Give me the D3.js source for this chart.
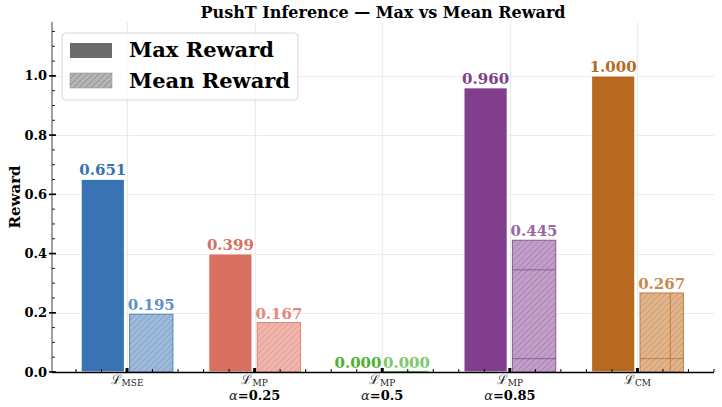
<!DOCTYPE html>
<html>
<head>
<meta charset="utf-8">
<script src="https://cdn.jsdelivr.net/npm/d3@7"></script>
<style>
  body { margin: 0; background: #fff; }
  svg { display: block; font-family: "DejaVu Serif", serif; }
</style>
</head>
<body>
<div id="chart"></div>
<script>
"use strict";

const width = 722;
const height = 407;

// data
const categories = ["MSE", "MP", "MP", "MP", "CM"];
const alphas = [null, "0.25", "0.5", "0.85", null];
const maxReward = [0.651, 0.399, 0.0, 0.96, 1.0];
const meanReward = [0.195, 0.167, 0.0, 0.445, 0.267];
const yTicks = [0.0, 0.2, 0.4, 0.6, 0.8, 1.0];

// colours per category: solid, light fill, label tint
const barColors = ["#3973b3", "#d9705f", "#4db22e", "#803e8d", "#b7691f"];
const meanFills = ["#9fbad9", "#edb5ab", "#a6d896", "#c09fc7", "#dfb48c"];
const meanTextColors = ["#5f90c6", "#e3897c", "#7cc86a", "#9a68a5", "#c98a4f"];

// odd extra strokes visible inside some mean bars
const meanInnerLevels = [[], [], [], [0.345, 0.045], [0.045]];
const meanInnerSplit = [null, null, null, null, 0.7];

const margin = { top: 22, right: 8, bottom: 35, left: 52 };
const plotRight = width - margin.right;
const plotBottom = height - margin.bottom;

const x = d3.scaleLinear().domain([-0.588, 4.6]).range([margin.left, plotRight]);
const y = d3.scaleLinear().domain([0, 1.182]).range([plotBottom, margin.top]);

const barW = 0.34;
const barOff = 0.19;

const svg = d3.select("#chart").append("svg")
  .attr("width", width)
  .attr("height", height);

const defs = svg.append("defs");

function hatch(id, color, bg) {
  const p = defs.append("pattern")
    .attr("id", id)
    .attr("patternUnits", "userSpaceOnUse")
    .attr("width", 6)
    .attr("height", 6);
  p.append("rect").attr("width", 6).attr("height", 6).attr("fill", bg);
  p.append("path")
    .attr("d", "M-1,1 L1,-1 M0,6 L6,0 M5,7 L7,5")
    .attr("stroke", color)
    .attr("stroke-width", 0.6)
    .attr("stroke-opacity", 0.6);
}

barColors.forEach((c, i) => hatch("h" + i, c, meanFills[i]));
hatch("hleg", "#555", "#b3b3b3");

// grid
const grid = svg.append("g");
grid.selectAll(".gy")
  .data(yTicks)
  .enter()
  .append("line")
  .attr("x1", margin.left)
  .attr("x2", plotRight)
  .attr("y1", d => Math.round(y(d)) + 0.5)
  .attr("y2", d => Math.round(y(d)) + 0.5)
  .attr("stroke", "#ebebeb")
  .attr("stroke-width", 1.2);
grid.selectAll(".gx")
  .data(categories.map((d, i) => i))
  .enter()
  .append("line")
  .attr("x1", d => Math.round(x(d)) + 0.5)
  .attr("x2", d => Math.round(x(d)) + 0.5)
  .attr("y1", margin.top)
  .attr("y2", plotBottom)
  .attr("stroke", "#ebebeb")
  .attr("stroke-width", 1.2);

// max bars
const bars = svg.append("g");
bars.selectAll(".max")
  .data(maxReward)
  .enter()
  .append("rect")
  .attr("x", (d, i) => x(i - barOff - barW / 2))
  .attr("width", x(barW) - x(0))
  .attr("y", d => y(d))
  .attr("height", d => y(0) - y(d))
  .attr("fill", (d, i) => barColors[i])
  .attr("stroke", "#fff")
  .attr("stroke-width", 1.2);

// mean bars
bars.selectAll(".mean")
  .data(meanReward)
  .enter()
  .append("rect")
  .attr("x", (d, i) => x(i + barOff - barW / 2))
  .attr("width", x(barW) - x(0))
  .attr("y", d => Math.min(y(d), y(0) - 0.6))
  .attr("height", d => Math.max(y(0) - y(d), 0.6))
  .attr("fill", (d, i) => "url(#h" + i + ")")
  .attr("stroke", (d, i) => barColors[i])
  .attr("stroke-opacity", 0.8)
  .attr("stroke-width", 1);

meanInnerLevels.forEach((levels, i) => {
  levels.forEach(v => {
    bars.append("line")
      .attr("x1", x(i + barOff - barW / 2))
      .attr("x2", x(i + barOff + barW / 2))
      .attr("y1", y(v))
      .attr("y2", y(v))
      .attr("stroke", barColors[i])
      .attr("stroke-opacity", 0.7)
      .attr("stroke-width", 1);
  });
  if (meanInnerSplit[i] !== null) {
    const xs = x(i + barOff - barW / 2 + barW * meanInnerSplit[i]);
    bars.append("line")
      .attr("x1", xs).attr("x2", xs)
      .attr("y1", y(meanReward[i]))
      .attr("y2", y(0))
      .attr("stroke", barColors[i])
      .attr("stroke-opacity", 0.7)
      .attr("stroke-width", 1);
  }
});

// value labels
const labels = svg.append("g")
  .attr("font-weight", "bold")
  .attr("font-size", 15)
  .attr("text-anchor", "middle");
labels.selectAll(".lmax")
  .data(maxReward)
  .enter()
  .append("text")
  .attr("x", (d, i) => x(i - barOff))
  .attr("y", d => y(d) - 4)
  .attr("fill", (d, i) => barColors[i])
  .text(d => d.toFixed(3));
labels.selectAll(".lmean")
  .data(meanReward)
  .enter()
  .append("text")
  .attr("x", (d, i) => x(i + barOff))
  .attr("y", d => y(d) - 4)
  .attr("fill", (d, i) => meanTextColors[i])
  .text(d => d.toFixed(3));

// axes
const axes = svg.append("g");
axes.append("line")
  .attr("x1", margin.left).attr("x2", margin.left)
  .attr("y1", margin.top).attr("y2", plotBottom)
  .attr("stroke", "#808080").attr("stroke-width", 1.5);
axes.append("line")
  .attr("x1", margin.left).attr("x2", plotRight)
  .attr("y1", plotBottom + 0.5).attr("y2", plotBottom + 0.5)
  .attr("stroke", "#000").attr("stroke-width", 1.5);

// y ticks
const yMinor = d3.range(0, 1.18, 0.05);
axes.selectAll(".ymin")
  .data(yMinor)
  .enter()
  .append("line")
  .attr("x1", margin.left).attr("x2", margin.left + 3)
  .attr("y1", d => y(d)).attr("y2", d => y(d))
  .attr("stroke", "#222").attr("stroke-width", 1);
axes.selectAll(".ymaj")
  .data(yTicks)
  .enter()
  .append("line")
  .attr("x1", margin.left - 3).attr("x2", margin.left + 4)
  .attr("y1", d => y(d)).attr("y2", d => y(d))
  .attr("stroke", "#000").attr("stroke-width", 1.6);
axes.selectAll(".ylab")
  .data(yTicks)
  .enter()
  .append("text")
  .attr("x", margin.left - 5)
  .attr("y", d => y(d) + 4.5)
  .attr("text-anchor", "end")
  .attr("font-weight", "bold")
  .attr("font-size", 13)
  .text(d => d.toFixed(1));

// x ticks
const xMinor = d3.range(-0.4, 4.61, 0.2);
axes.selectAll(".xmin")
  .data(xMinor)
  .enter()
  .append("line")
  .attr("x1", d => x(d)).attr("x2", d => x(d))
  .attr("y1", plotBottom).attr("y2", plotBottom - 3)
  .attr("stroke", "#000").attr("stroke-width", 1);
axes.selectAll(".xmaj")
  .data(categories.map((d, i) => i))
  .enter()
  .append("line")
  .attr("x1", d => x(d)).attr("x2", d => x(d))
  .attr("y1", plotBottom + 1).attr("y2", plotBottom - 4)
  .attr("stroke", "#000").attr("stroke-width", 3);

// first row: loss symbol with subscript
const l1 = axes.selectAll(".xlab")
  .data(categories)
  .enter()
  .append("text")
  .attr("x", (d, i) => x(i))
  .attr("y", 384)
  .attr("text-anchor", "middle")
  .attr("font-size", 13)
  .attr("fill", "#222");
l1.append("tspan").text("ℒ");
l1.append("tspan")
  .attr("font-size", 9)
  .attr("dy", 1.5)
  .text(d => d);

// second row: alpha value
alphas.forEach((a, i) => {
  if (a === null) return;
  const t = axes.append("text")
    .attr("x", x(i))
    .attr("y", 400)
    .attr("text-anchor", "middle")
    .attr("font-size", 13);
  t.append("tspan").attr("font-style", "italic").attr("fill", "#222").text("α");
  t.append("tspan").attr("font-weight", "bold").text("=" + a);
});

// y label
svg.append("text")
  .attr("transform", `translate(20,${(margin.top + plotBottom) / 2}) rotate(-90)`)
  .attr("text-anchor", "middle")
  .attr("font-weight", "bold")
  .attr("font-size", 15)
  .text("Reward");

// title
svg.append("text")
  .attr("x", (margin.left + plotRight) / 2)
  .attr("y", 18)
  .attr("text-anchor", "middle")
  .attr("font-weight", "bold")
  .attr("font-size", 16)
  .text("PushT Inference — Max vs Mean Reward");

// legend
const legend = svg.append("g").attr("transform", "translate(62,33)");
legend.append("rect")
  .attr("width", 236).attr("height", 67)
  .attr("rx", 4)
  .attr("fill", "#fff").attr("fill-opacity", 0.8)
  .attr("stroke", "#d8d8d8");
const legItems = [
  { name: "Max Reward", fill: "#6b6b6b" },
  { name: "Mean Reward", fill: "url(#hleg)" }
];
legItems.forEach((it, k) => {
  legend.append("rect")
    .attr("x", 8).attr("y", 10 + k * 30)
    .attr("width", 42).attr("height", 15)
    .attr("fill", it.fill)
    .attr("stroke", k ? "#999" : "none")
    .attr("stroke-width", 0.6);
  legend.append("text")
    .attr("x", 67).attr("y", 24 + k * 31)
    .attr("font-weight", "bold")
    .attr("font-size", 21)
    .text(it.name);
});
</script>
</body>
</html>
